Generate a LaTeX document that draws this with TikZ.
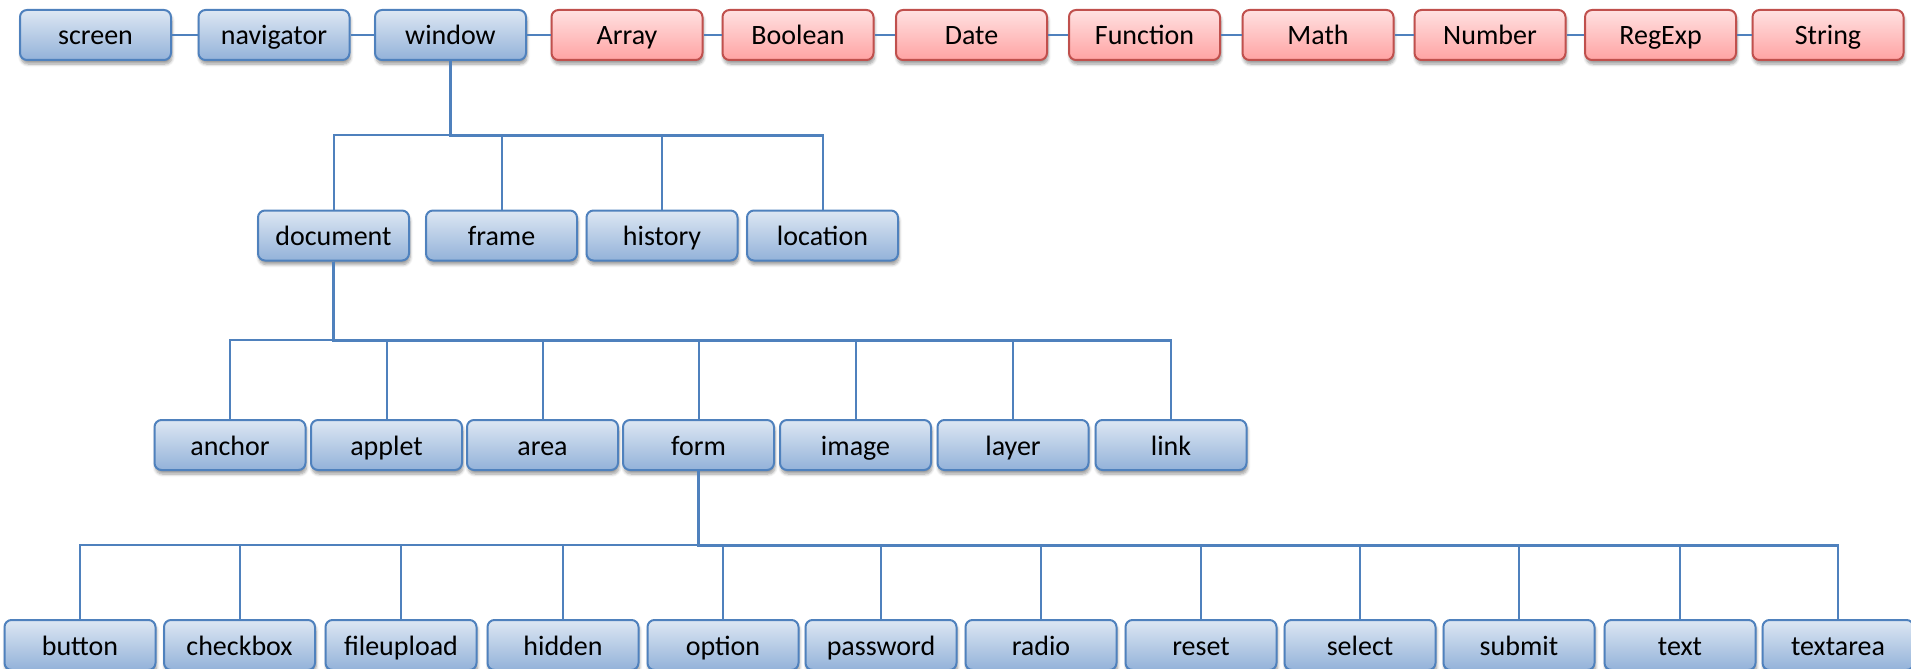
\documentclass[tikz,border=0pt]{standalone}
\usepackage{fontspec}
\setmainfont{Carlito}
\usetikzlibrary{shadows.blur}
\definecolor{lineblue}{HTML}{4F81BD}
\definecolor{boxtopb}{HTML}{DDE7F3}
\definecolor{boxbotb}{HTML}{93B2D9}
\definecolor{boxred}{HTML}{C0504D}
\definecolor{boxtopr}{HTML}{FFE1E1}
\definecolor{boxbotr}{HTML}{FFA3A3}
\tikzset{
  basebox/.style={rounded corners=7pt, line width=2pt, minimum width=151pt, minimum height=50pt,
    inner sep=0pt, text height=20pt, text depth=0pt, font=\fontsize{28}{32}\selectfont,
    blur shadow={shadow xshift=1pt, shadow yshift=-4pt, shadow blur steps=6, shadow opacity=40, shadow blur radius=3pt}},
  bbox/.style={basebox, draw=lineblue, top color=boxtopb, bottom color=boxbotb},
  rbox/.style={basebox, draw=boxred, top color=boxtopr, bottom color=boxbotr},
  conn/.style={draw=lineblue, line width=2pt},
  trunk/.style={draw=lineblue, line width=3pt}
}
\begin{document}
\begin{tikzpicture}[x=1pt,y=-1pt]
\useasboundingbox (0,0) rectangle (1911,669);
\coordinate (b1) at (0,135);
\coordinate (b2) at (0,340);
\coordinate (b3) at (0,545);
% top row
\node[bbox] (screen) at (95.5,35) {screen};
\node[bbox] (navigator) at (274,35) {navigator};
\node[bbox] (window) at (450.5,35) {window};
\node[rbox] (array) at (627,35) {Array};
\node[rbox] (boolean) at (798,35) {Boolean};
\node[rbox] (date) at (971.5,35) {Date};
\node[rbox] (function) at (1144.5,35) {Function};
\node[rbox] (math) at (1318,35) {Math};
\node[rbox] (number) at (1490,35) {Number};
\node[rbox] (regexp) at (1660.5,35) {RegExp};
\node[rbox] (string) at (1828,35) {String};
% row 2
\node[bbox] (document) at (333.5,235.5) {document};
\node[bbox] (frame) at (501.5,235.5) {frame};
\node[bbox] (history) at (662,235.5) {history};
\node[bbox] (location) at (822.5,235.5) {location};
% row 3
\node[bbox] (anchor) at (230,445) {anchor};
\node[bbox] (applet) at (386.5,445) {applet};
\node[bbox] (area) at (542.5,445) {area};
\node[bbox] (form) at (698.5,445) {form};
\node[bbox] (image) at (855.5,445) {image};
\node[bbox] (layer) at (1013,445) {layer};
\node[bbox] (link) at (1171,445) {link};
% row 4
\node[bbox] (button) at (80,645) {button};
\node[bbox] (checkbox) at (239.5,645) {checkbox};
\node[bbox] (fileupload) at (401,645) {fileupload};
\node[bbox] (hidden) at (563,645) {hidden};
\node[bbox] (option) at (723,645) {option};
\node[bbox] (password) at (881,645) {password};
\node[bbox] (radio) at (1041,645) {radio};
\node[bbox] (reset) at (1201,645) {reset};
\node[bbox] (select) at (1360,645) {select};
\node[bbox] (submit) at (1519,645) {submit};
\node[bbox] (text) at (1680,645) {text};
\node[bbox] (textarea) at (1838,645) {textarea};
% top chain
\foreach \a/\b in {screen/navigator,navigator/window,window/array,array/boolean,boolean/date,date/function,function/math,math/number,number/regexp,regexp/string}
  \draw[conn] (\a.east) -- (\b.west);
% tree connectors
\foreach \c in {document,frame,history,location}
  \draw[conn] (window.south) -- (window.south |- b1) -| (\c.north);
\draw[trunk] (window.south) |- (location.north |- b1);
\foreach \c in {anchor,applet,area,form,image,layer,link}
  \draw[conn] (document.south) -- (document.south |- b2) -| (\c.north);
\draw[trunk] (document.south) |- (link.north |- b2);
\foreach \c in {button,checkbox,fileupload,hidden,option,password,radio,reset,select,submit,text,textarea}
  \draw[conn] (form.south) -- (form.south |- b3) -| (\c.north);
\draw[trunk] (form.south) |- (textarea.north |- b3);
\end{tikzpicture}
\end{document}
